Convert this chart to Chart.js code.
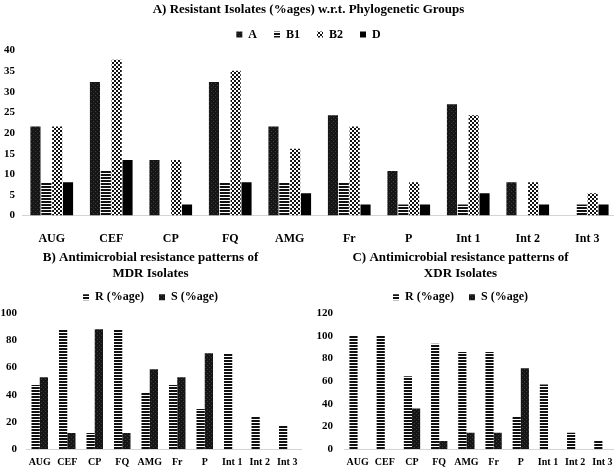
<!DOCTYPE html>
<html>
<head>
<meta charset="utf-8">
<script src="https://cdn.jsdelivr.net/npm/chart.js@4.4.0/dist/chart.umd.min.js"></script>
<style>
  html, body { margin: 0; padding: 0; background: #fff; overflow: hidden; }
  #wrap { position: relative; width: 614px; height: 467px; overflow: hidden; }
  .box { position: absolute; }
  #boxA { left: 0; top: 0; }
  #boxB { left: 0; top: 246px; }
  #boxC { left: 305px; top: 246px; }
</style>
</head>
<body>
<div id="wrap">
  <div class="box" id="boxA"><canvas id="chartA" width="620" height="263"></canvas></div>
  <div class="box" id="boxB"><canvas id="chartB" width="305" height="230"></canvas></div>
  <div class="box" id="boxC"><canvas id="chartC" width="315" height="230"></canvas></div>
</div>
<script>
// データ
const categories = ['AUG', 'CEF', 'CP', 'FQ', 'AMG', 'Fr', 'P', 'Int 1', 'Int 2', 'Int 3']

const groupA  = [21.6, 32.4, 13.5, 32.4, 21.6, 24.3, 10.8, 27.0, 8.1, 0]
const groupB1 = [8.1, 10.8, 0, 8.1, 8.1, 8.1, 2.7, 2.7, 0, 2.7]
const groupB2 = [21.6, 37.8, 13.5, 35.1, 16.2, 21.6, 8.1, 24.3, 8.1, 5.4]
const groupD  = [8.1, 13.5, 2.7, 8.1, 5.4, 2.7, 2.7, 5.4, 2.7, 2.7]

const mdrR = [47.1, 88.2, 11.8, 88.2, 41.2, 47.1, 29.4, 70.6, 23.5, 17.6]
const mdrS = [52.9, 11.8, 88.2, 11.8, 58.8, 52.9, 70.6, null, null, null]

const xdrR = [100, 100, 64.3, 92.9, 85.7, 85.7, 28.6, 57.1, 14.3, 7.1]
const xdrS = [0, 0, 35.7, 7.1, 14.3, 14.3, 71.4, null, null, null]

const ticksA = [0, 5, 10, 15, 20, 25, 30, 35, 40]
const ticksB = [0, 20, 40, 60, 80, 100]
const ticksC = [0, 20, 40, 60, 80, 100, 120]

const SERIF = "'Liberation Serif', 'Times New Roman', serif"

// パターン
function makePattern(kind) {
  const c = document.createElement('canvas')
  const g = c.getContext('2d')
  if (kind === 'dense') {
    c.width = 4; c.height = 4
    g.fillStyle = '#161616'; g.fillRect(0, 0, 4, 4)
    g.fillStyle = '#3c3c3c'; g.fillRect(1, 1, 1, 1); g.fillRect(3, 3, 1, 1)
  } else if (kind === 'hstripe') {
    c.width = 2; c.height = 3
    g.fillStyle = '#fff'; g.fillRect(0, 0, 2, 3)
    g.fillStyle = '#111'; g.fillRect(0, 0, 2, 2)
  } else if (kind === 'checker') {
    c.width = 4; c.height = 4
    g.fillStyle = '#111'; g.fillRect(0, 0, 4, 4)
    g.fillStyle = '#fff'; g.fillRect(0, 0, 2, 2); g.fillRect(2, 2, 2, 2)
  } else {
    c.width = 2; c.height = 2
    g.fillStyle = '#000'; g.fillRect(0, 0, 2, 2)
  }
  return g.createPattern(c, 'repeat')
}

const patDense = makePattern('dense')
const patStripe = makePattern('hstripe')
const patChecker = makePattern('checker')
const patSolid = makePattern('solid')

function font(size) {
  return { family: SERIF, size: size, weight: 'bold' }
}

// 凡例の項目間を少し広げる
function spacedLabels(gap) {
  return function(chart) {
    const items = Chart.defaults.plugins.legend.labels.generateLabels(chart)
    items.forEach((item, i) => {
      if (i < items.length - 1) item.text = item.text + gap
    })
    return items
  }
}

function baseOptions(opts) {
  return {
    responsive: false,
    animation: false,
    devicePixelRatio: 1,
    layout: { padding: opts.padding },
    datasets: { bar: { categoryPercentage: opts.catPct, barPercentage: opts.barPct } },
    plugins: {
      title: {
        display: true,
        text: opts.title,
        color: '#000',
        font: font(opts.titleSize),
        padding: opts.titlePadding
      },
      legend: {
        labels: {
          boxWidth: 6,
          boxHeight: 6,
          color: '#000',
          font: font(12),
          padding: opts.legendPadding,
          generateLabels: spacedLabels(opts.legendGap)
        }
      },
      tooltip: { enabled: false }
    },
    scales: {
      x: {
        grid: { display: false, drawTicks: false },
        border: { display: true, color: '#d4d4d4', width: 1 },
        ticks: { color: '#000', font: font(opts.xFont), padding: opts.xPad, maxRotation: 0, autoSkip: false }
      },
      y: {
        min: 0,
        max: opts.yTicks[opts.yTicks.length - 1],
        grid: { display: false, drawTicks: false },
        border: { display: false },
        afterBuildTicks: function(scale) {
          scale.ticks = opts.yTicks.map(v => ({ value: v }))
        },
        afterFit: function(scale) {
          scale.width = opts.yWidth
        },
        ticks: { color: '#000', font: font(11), padding: opts.yPad }
      }
    }
  }
}

new Chart(document.getElementById('chartA'), {
  type: 'bar',
  data: {
    labels: categories,
    datasets: [
      { label: 'A', data: groupA, backgroundColor: patDense },
      { label: 'B1', data: groupB1, backgroundColor: patStripe },
      { label: 'B2', data: groupB2, backgroundColor: patChecker },
      { label: 'D', data: groupD, backgroundColor: patSolid }
    ]
  },
  options: baseOptions({
    padding: { left: 0, right: 3, top: 1, bottom: 1 },
    catPct: 0.73, barPct: 0.93,
    title: 'A) Resistant Isolates (%ages) w.r.t. Phylogenetic Groups',
    titleSize: 13, titlePadding: { top: 1, bottom: 0 },
    legendPadding: 11, legendGap: '\u00a0\u00a0',
    xFont: 12, xPad: 16,
    yTicks: ticksA, yWidth: 22, yPad: 7
  })
})

new Chart(document.getElementById('chartB'), {
  type: 'bar',
  data: {
    labels: categories,
    datasets: [
      { label: 'R (%age)', data: mdrR, backgroundColor: patStripe },
      { label: 'S (%age)', data: mdrS, backgroundColor: patDense }
    ]
  },
  options: baseOptions({
    padding: { left: 0, right: 4, top: 2, bottom: 1 },
    catPct: 0.6, barPct: 1.0,
    title: ['B) Antimicrobial resistance patterns of', 'MDR Isolates'],
    titleSize: 13, titlePadding: { top: 2, bottom: 1 },
    legendPadding: 9, legendGap: '\u00a0\u00a0',
    xFont: 10, xPad: 7,
    yTicks: ticksB, yWidth: 26, yPad: 9
  })
})

new Chart(document.getElementById('chartC'), {
  type: 'bar',
  data: {
    labels: categories,
    datasets: [
      { label: 'R (%age)', data: xdrR, backgroundColor: patStripe },
      { label: 'S (%age)', data: xdrS, backgroundColor: patDense }
    ]
  },
  options: baseOptions({
    padding: { left: 0, right: 4, top: 2, bottom: 1 },
    catPct: 0.6, barPct: 1.0,
    title: ['C) Antimicrobial resistance patterns of', 'XDR Isolates'],
    titleSize: 13, titlePadding: { top: 2, bottom: 1 },
    legendPadding: 9, legendGap: '\u00a0\u00a0',
    xFont: 10, xPad: 7,
    yTicks: ticksC, yWidth: 39, yPad: 11
  })
})
</script>
</body>
</html>
